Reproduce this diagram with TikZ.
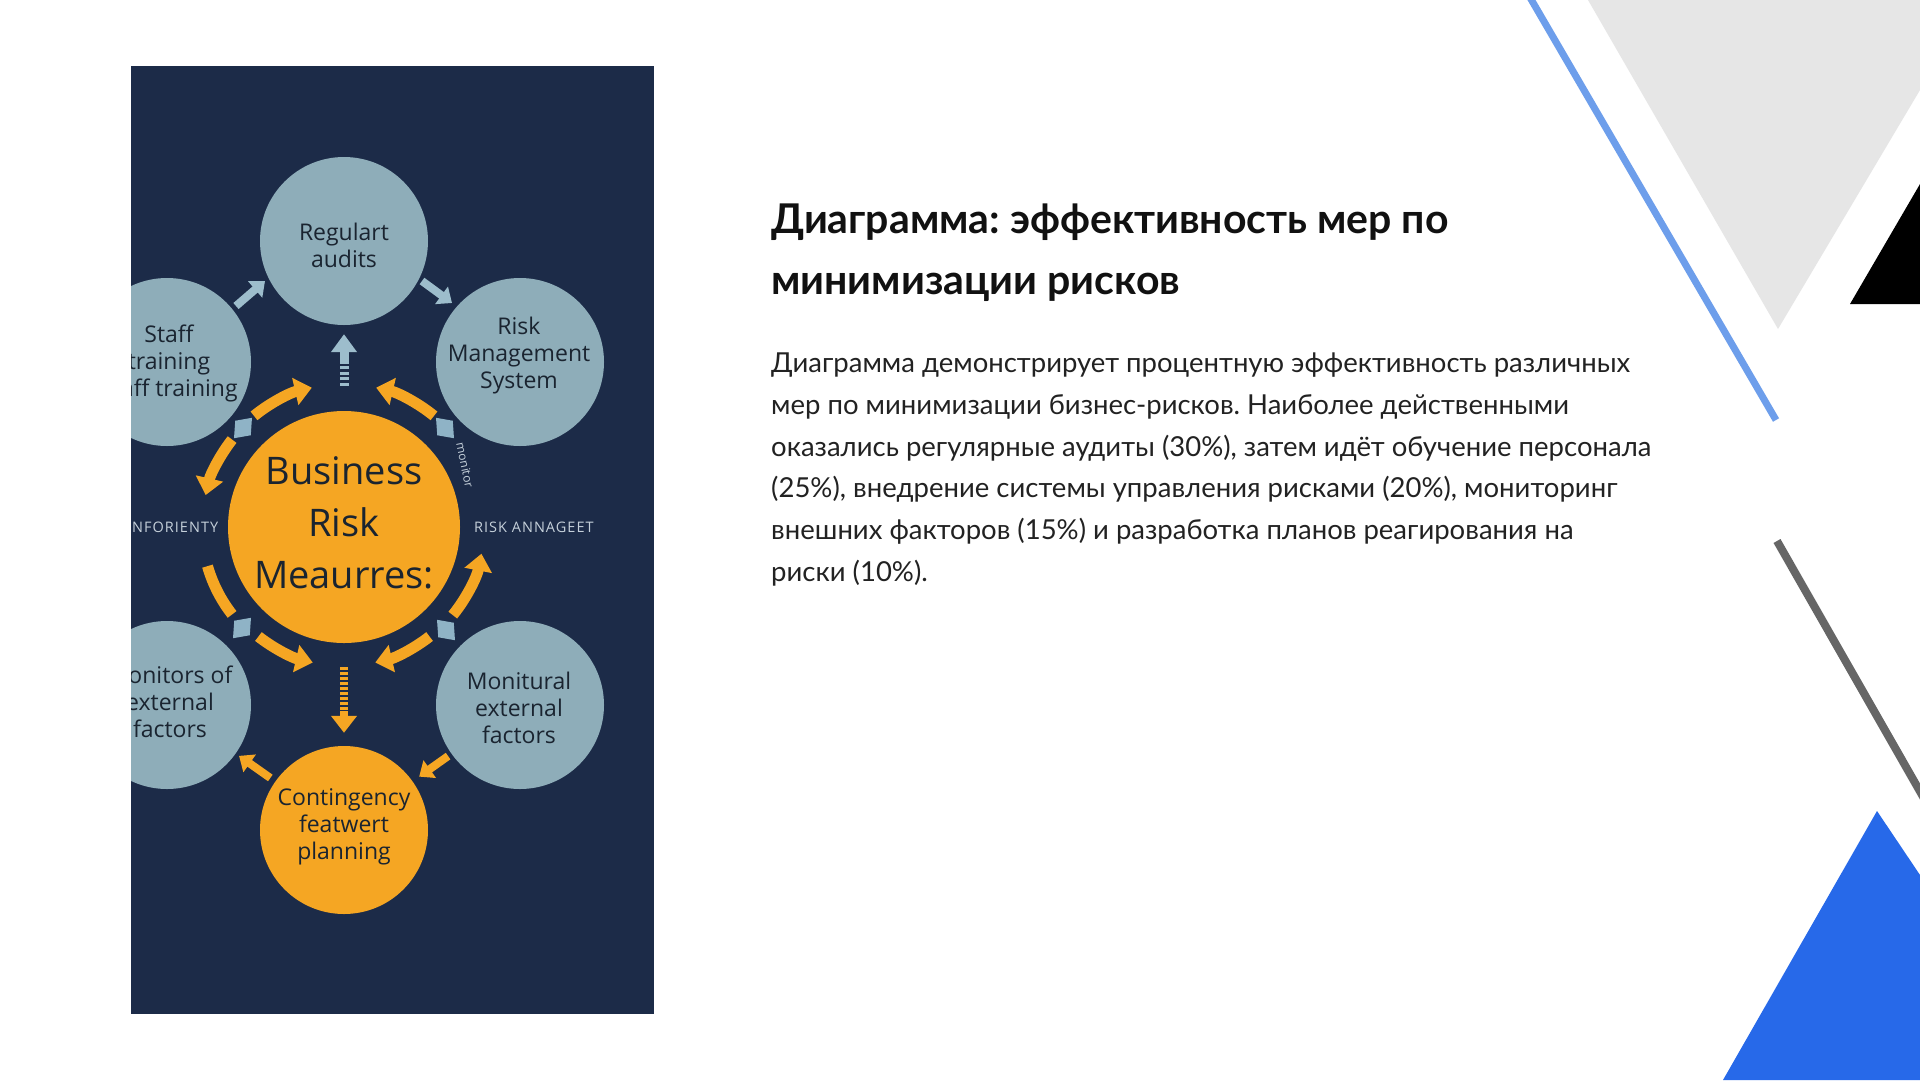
\documentclass[tikz,border=0pt]{standalone}
\usepackage{fontspec}
\setmainfont{Lato}
\newfontfamily\osans{Open Sans}
\newfontfamily\osanssp[LetterSpace=7]{Open Sans}
\usetikzlibrary{arrows.meta}
\frenchspacing
\definecolor{panelbg}{HTML}{1C2B48}
\definecolor{circlb}{HTML}{8EADB9}
\definecolor{orng}{HTML}{F5A623}
\definecolor{ctext}{HTML}{1A2430}
\definecolor{lbarr}{HTML}{9DBDCC}
\definecolor{sqcol}{HTML}{8FB3C6}
\definecolor{smalltxt}{HTML}{C5D0DA}
\definecolor{decogray}{HTML}{E6E6E6}
\definecolor{blueline}{HTML}{6D9EEB}
\definecolor{grayline}{HTML}{666666}
\definecolor{bluetri}{HTML}{2769E9}
\definecolor{titlecol}{HTML}{111111}
\definecolor{bodycol}{HTML}{222222}
\tikzset{
  bcirc/.style={circle, fill=circlb, minimum size=168pt, inner sep=0pt},
  ocirc/.style={circle, fill=orng, minimum size=168pt, inner sep=0pt},
  bigcirc/.style={circle, fill=orng, minimum size=232pt, inner sep=0pt},
  ctxt/.style={font=\osans\fontsize{23}{27}\selectfont, text=ctext, align=center, inner sep=0pt},
  bigtxt/.style={font=\osans\fontsize{38}{52}\selectfont, text=ctext, align=center, inner sep=0pt},
  smalllbl/.style={font=\osanssp\fontsize{14.5}{16}\selectfont, text=smalltxt, inner sep=0pt},
  orarc/.style={draw=orng, line width=11pt, -{Triangle[width=27pt,length=17pt]}},
  orplain/.style={draw=orng, line width=11pt},
  lbsmall/.style={draw=lbarr, line width=8pt, -{Triangle[width=21pt,length=13pt]}},
  orsmall/.style={draw=orng, line width=8pt, -{Triangle[width=21pt,length=13pt]}},
  sqmark/.style={fill=sqcol, minimum size=17pt, inner sep=0pt, rectangle},
  titletxt/.style={font=\bfseries\fontsize{41}{48}\selectfont, text=titlecol, anchor=base west, inner sep=0pt},
  bodytxt/.style={font=\fontsize{27.5}{32}\selectfont, text=bodycol, anchor=base west, inner sep=0pt}
}
\begin{document}
\begin{tikzpicture}[x=1pt,y=-1pt]
\useasboundingbox (0,0) rectangle (1920,1080);
\fill[white] (0,0) rectangle (1920,1080);
% right decorations
\fill[decogray] (1588,0) -- (1920,0) -- (1920,90) -- (1778,329) -- cycle;
\fill[black] (1850,304) -- (1920,304) -- (1920,184) -- cycle;
\draw[blueline, line width=7pt] (1528,-6) -- (1776,420);
\draw[grayline, line width=8pt] (1777,541) -- (1926,802);
\fill[bluetri] (1877,811) -- (1920,875) -- (1920,1080) -- (1723,1080) -- cycle;
% panel
\fill[panelbg] (131,66) rectangle (654,1014);
\begin{scope}
\clip (131,66) rectangle (654,1014);
\node[bcirc] (reg) at (344,241) {};
\node[bcirc] (risk) at (520,362) {};
\node[bcirc] (staff) at (167,362) {};
\node[bigcirc] (bus) at (344,527) {};
\node[bcirc] (mon) at (167,705) {};
\node[bcirc] (monr) at (520,705) {};
\node[ocirc] (cont) at (344,830) {};
% labels
\node[ctxt] (regt) at (344,245) {Regulart\\audits};
\node[ctxt] (riskt) at (519,356) {Risk\\Management\\System};
\node[ctxt] (stafft) at (169,363) {Staff\\training\\Staff training};
\node[ctxt] (mont) at (170,702) {Monitors of\\external\\factors};
\node[ctxt] (monrt) at (519,708) {Monitural\\external\\factors};
\node[ctxt] (contt) at (344,827) {Contingency\\featwert\\planning};
\node[bigtxt] (bust) at (344,523) {Business\\Risk\\Meaurres:};
\node[smalllbl, anchor=west] (infl) at (132,527) {NFORIENTY};
\node[smalllbl, anchor=west] (riskl) at (474,527) {RISK ANNAGEET};
\node[smalllbl, rotate=-78, font=\osans\fontsize{12}{14}\selectfont] (mont2) at (465,465) {monitor};
% squares
\node[sqmark, rotate=10, xslant=0.25] (sq1) at (243,428) {};
\node[sqmark, rotate=-10, xslant=-0.25] (sq2) at (445,428) {};
\node[sqmark, rotate=10, xslant=0.25] (sq3) at (242,628) {};
\node[sqmark, rotate=-10, xslant=-0.25] (sq4) at (446,630) {};
% orange arcs around center
\draw[orarc, shift={(bus.center)}] (-129:143) arc[start angle=-129, end angle=-103, radius=143];
\draw[orarc, shift={(bus.center)}] (-51:143) arc[start angle=-51, end angle=-77, radius=143];
\draw[orarc, shift={(bus.center)}] (-142:142) arc[start angle=-142, end angle=-167, radius=142];
\draw[orplain, shift={(bus.center)}] (-196:142) arc[start angle=-196, end angle=-218, radius=142];
\draw[orarc, shift={(bus.center)}] (-232:139) arc[start angle=-232, end angle=-257, radius=139];
\draw[orarc, shift={(bus.center)}] (-308:139) arc[start angle=-308, end angle=-283, radius=139];
\draw[orarc, shift={(bus.center)}] (-321:140) arc[start angle=-321, end angle=-349, radius=140];
% dashed up arrow
\draw[draw=lbarr, line width=9pt, dash pattern=on 3pt off 2.5pt, shorten <=25pt, shorten >=36pt] (bus) -- (reg);
\draw[draw=lbarr, line width=9pt, -{Triangle[width=25pt,length=18pt]}, shorten <=50pt, shorten >=9pt] (bus) -- (reg);
% dashed down arrow
\draw[draw=orng, line width=8pt, dash pattern=on 3pt off 2pt, shorten <=24pt, shorten >=26pt] (bus) -- (cont);
\draw[draw=orng, line width=8pt, -{Triangle[width=25pt,length=17pt]}, shorten <=68pt, shorten >=13pt] (bus) -- (cont);
% small arrows
\coordinate (a1s) at (236,306);
\coordinate (a1e) at (265,281);
\coordinate (a2s) at (422,281);
\coordinate (a2e) at (452,303);
\draw[lbsmall] (a1s) -- (a1e);
\draw[lbsmall] (a2s) -- (a2e);
\draw[orsmall, shorten <=6pt, shorten >=4pt] (cont) -- (mon);
\draw[orsmall, shorten <=4pt, shorten >=8pt] (monr) -- (cont);
\end{scope}
% text
\node[titletxt] (t1) at (771,233) {Диаграмма: эффективность мер по};
\node[titletxt] (t2) at (771,294) {минимизации рисков};
\node[bodytxt] (b1) at (771,372) {Диаграмма демонстрирует процентную эффективность различных};
\node[bodytxt] (b2) at (771,414) {мер по минимизации бизнес-рисков. Наиболее действенными};
\node[bodytxt] (b3) at (771,456) {оказались регулярные аудиты (30\%), затем идёт обучение персонала};
\node[bodytxt] (b4) at (771,497) {(25\%), внедрение системы управления рисками (20\%), мониторинг};
\node[bodytxt] (b5) at (771,539) {внешних факторов (15\%) и разработка планов реагирования на};
\node[bodytxt] (b6) at (771,581) {риски (10\%).};
\end{tikzpicture}
\end{document}
